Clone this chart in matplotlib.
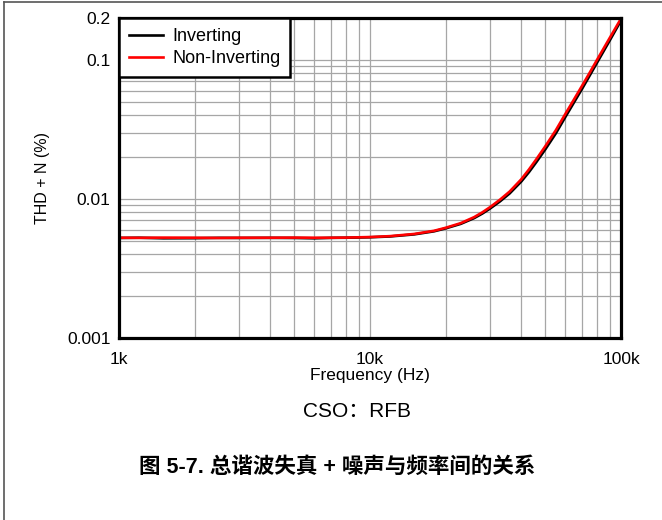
import matplotlib
matplotlib.use("Agg")
import matplotlib.pyplot as plt
from matplotlib.lines import Line2D
from matplotlib.ticker import FixedLocator, NullFormatter

plt.rcParams['font.family'] = ['Liberation Sans', 'Noto Sans CJK SC', 'DejaVu Sans']

# THD+N vs frequency (values in %)
freq_hz = [1000, 1200, 1500, 2000, 2500, 3000, 4000, 5000, 6000, 7000, 8000,
           10000, 12000, 15000, 18000, 20000, 23000, 26000, 28000, 30000, 33000,
           36000, 40000, 43000, 46000, 50000, 55000, 60000, 65000, 70000, 75000,
           80000, 90000, 100000]
thd_inverting = [0.00524, 0.00526, 0.00521, 0.00522, 0.00525, 0.00524, 0.00525,
                 0.00524, 0.00521, 0.00525, 0.00526, 0.00530, 0.00537, 0.00556,
                 0.00585, 0.00614, 0.00662, 0.00728, 0.00784, 0.00850, 0.00962,
                 0.01095, 0.0133, 0.0156, 0.0184, 0.0228, 0.0296, 0.0388, 0.0495,
                 0.0620, 0.0770, 0.0945, 0.137, 0.192]
thd_noninverting = [0.00526, 0.00525, 0.00527, 0.00526, 0.00524, 0.00526, 0.00526,
                    0.00527, 0.00526, 0.00526, 0.00527, 0.00532, 0.00540, 0.00560,
                    0.00590, 0.00620, 0.00670, 0.00740, 0.00800, 0.00870, 0.00990,
                    0.01130, 0.0138, 0.0163, 0.0193, 0.0240, 0.0312, 0.0408, 0.0520,
                    0.0652, 0.0807, 0.0990, 0.143, 0.198]

x_ticks = [1000, 10000, 100000]
x_labels = ['1k', '10k', '100k']
y_ticks = [0.001, 0.01, 0.1, 0.2]
y_labels = ['0.001', '0.01', '0.1', '0.2']

fig = plt.figure(figsize=(6.62, 5.20), dpi=100)
ax = fig.add_axes([119 / 662, 1 - 338 / 520, 502 / 662, 320 / 520])

ax.plot(freq_hz, thd_inverting, color='black', lw=1.9, label='Inverting', zorder=3)
ax.plot(freq_hz, thd_noninverting, color='#ff0000', lw=1.9, label='Non-Inverting', zorder=4)

ax.set_xscale('log')
ax.set_yscale('log')
ax.set_xlim(1000, 100000)
ax.set_ylim(0.001, 0.2)

ax.xaxis.set_major_locator(FixedLocator(x_ticks))
ax.set_xticklabels(x_labels)
ax.yaxis.set_major_locator(FixedLocator(y_ticks))
ax.set_yticklabels(y_labels)
ax.xaxis.set_minor_formatter(NullFormatter())
ax.yaxis.set_minor_formatter(NullFormatter())
ax.tick_params(which='both', length=0)
ax.tick_params(axis='x', pad=10, labelsize=12.5)
ax.tick_params(axis='y', pad=6, labelsize=12.5)

ax.grid(True, which='both', color='#a6a6a6', lw=0.9)
ax.set_axisbelow(True)
for sp in ax.spines.values():
    sp.set_linewidth(2.3)
    sp.set_zorder(5)

ax.set_xlabel('Frequency (Hz)', fontsize=12.5, labelpad=1)
ax.set_ylabel('THD + N (%)', fontsize=11.5, labelpad=12)

leg = ax.legend(loc='upper left', borderaxespad=0, fancybox=False, fontsize=13,
                handlelength=1.9, handletextpad=0.5, labelspacing=0.3,
                borderpad=0.55, framealpha=1)
leg.get_frame().set_edgecolor('black')
leg.get_frame().set_linewidth(1.8)
leg.set_zorder(6)

fig.text(357 / 662, 1 - 411 / 520, 'CSO：RFB', fontsize=15, ha='center', va='center')
fig.text(337 / 662, 1 - 467 / 520, '图 5-7. 总谐波失真 + 噪声与频率间的关系',
         fontsize=15.5, fontweight='bold', ha='center', va='center')

# page frame (left and top edges)
fig.add_artist(Line2D([3.5 / 662, 3.5 / 662], [0, 1 - 1.5 / 520], color='#555555', lw=1.2))
fig.add_artist(Line2D([3.5 / 662, 1], [1 - 1.5 / 520, 1 - 1.5 / 520], color='#555555', lw=1.2))

fig.savefig('out.png', dpi=100)
